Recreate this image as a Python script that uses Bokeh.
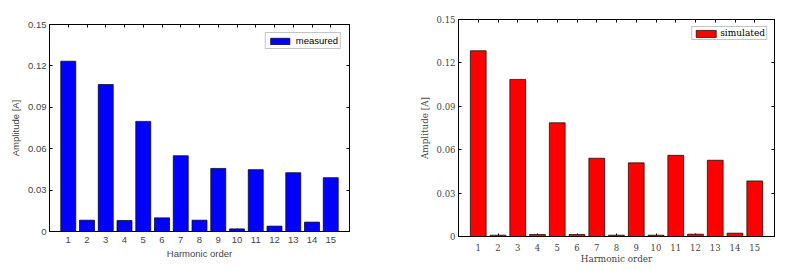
from bokeh.plotting import figure
from bokeh.layouts import row, column
from bokeh.models import (Range1d, LinearAxis, FixedTicker, Legend, LegendItem,
                          ColumnDataSource, CustomJSTickFormatter)
from bokeh.embed import file_html
from bokeh.resources import INLINE

# ---- data ----
orders = list(range(1, 16))
measured = [0.1234, 0.0082, 0.1065, 0.0080, 0.0798, 0.0099, 0.0549, 0.0082,
            0.0457, 0.0019, 0.0448, 0.0039, 0.0426, 0.0068, 0.0390]
simulated = [0.1284, 0.0009, 0.1086, 0.0014, 0.0786, 0.0014, 0.0541, 0.0009,
             0.0509, 0.0009, 0.0561, 0.0016, 0.0527, 0.0023, 0.0384]
y_ticks = [0, 0.03, 0.06, 0.09, 0.12, 0.15]
y_tick_labels = ["0", "0.03", "0.06", "0.09", "0.12", "0.15"]
x_tick_labels = [str(o) for o in orders]
x_label = "Harmonic order"
y_label = "Amplitude [A]"


def panel(values, color, name, font, tick_size, label_size, legend_size, text_color,
          width, height, borders, legend_cfg, x_standoffs):
    bl, br, bt, bb = borders
    p = figure(width=width, height=height, output_backend="svg", toolbar_location=None,
               x_range=Range1d(0, 16), y_range=Range1d(0, 0.15),
               min_border_left=bl, min_border_right=br, min_border_top=bt, min_border_bottom=bb,
               background_fill_color="white", border_fill_color="white")
    p.grid.visible = False
    p.outline_line_color = "black"
    p.outline_line_width = 1

    src = ColumnDataSource(dict(x=orders, top=values))
    r = p.vbar(x="x", top="top", width=0.8, source=src, fill_color=color,
               line_color="black", line_width=0.7, level="annotation")

    xa = p.xaxis[0]
    xa.ticker = FixedTicker(ticks=orders)
    xa.major_label_overrides = {float(o): l for o, l in zip(orders, x_tick_labels)}
    ya = p.yaxis[0]
    ya.ticker = FixedTicker(ticks=y_ticks)
    ya.major_label_overrides = {float(v): l for v, l in zip(y_ticks, y_tick_labels)}

    for ax in (xa, ya):
        ax.major_tick_in = 3
        ax.major_tick_out = 0
        ax.minor_tick_line_color = None
        ax.axis_line_color = "black"
        ax.major_tick_line_color = "black"
        ax.major_label_text_font = font
        ax.major_label_text_font_size = tick_size
        ax.major_label_text_color = text_color
        ax.axis_label_text_font = font
        ax.axis_label_text_font_size = label_size
        ax.axis_label_text_color = text_color
        ax.axis_label_text_font_style = "normal"
    xa.axis_label = x_label
    ya.axis_label = y_label
    xa.major_label_standoff = x_standoffs[0]
    xa.axis_label_standoff = x_standoffs[1]
    ya.major_label_standoff = 3
    ya.axis_label_standoff = 4

    # box ticks on top and right
    top = LinearAxis(ticker=FixedTicker(ticks=orders))
    right = LinearAxis(ticker=FixedTicker(ticks=y_ticks))
    for ax in (top, right):
        ax.major_tick_in = 3
        ax.major_tick_out = 0
        ax.minor_tick_line_color = None
        ax.axis_line_color = "black"
        ax.formatter = CustomJSTickFormatter(code="return ''")
        ax.major_label_text_font_size = "1px"
        ax.major_label_standoff = 0
    p.add_layout(top, "above")
    p.add_layout(right, "right")

    leg = Legend(items=[LegendItem(label=name, renderers=[r])], location="top_right",
                 margin=legend_cfg["margin"], padding=legend_cfg["padding"], spacing=0,
                 glyph_width=legend_cfg["gw"], glyph_height=legend_cfg["gh"],
                 label_standoff=legend_cfg["standoff"], label_height=legend_cfg["gh"],
                 label_text_font=font, label_text_font_size=legend_size,
                 label_text_color="black",
                 border_line_color="#8a8a8a", border_line_width=1,
                 background_fill_color="white", background_fill_alpha=1)
    p.add_layout(leg)
    return p


p1 = panel(measured, "#0000ff", "measured", "Liberation Sans", "9.5px", "9.5px", "9.5px",
           "#444444", 400, 266, (49, 51, 24, 35),
           dict(margin=8, padding=2, gw=24, gh=8, standoff=4), (5, 2))
p2 = panel(simulated, "#ff0000", "simulated", "DejaVu Serif", "8.5px", "8.8px", "9px",
           "#444444", 390, 266, (58, 16, 19, 30),
           dict(margin=7, padding=1, gw=25, gh=9, standoff=2), (7, 0))

layout = row(column(p1), column(p2))
open("out.html", "w").write(file_html(layout, INLINE))
